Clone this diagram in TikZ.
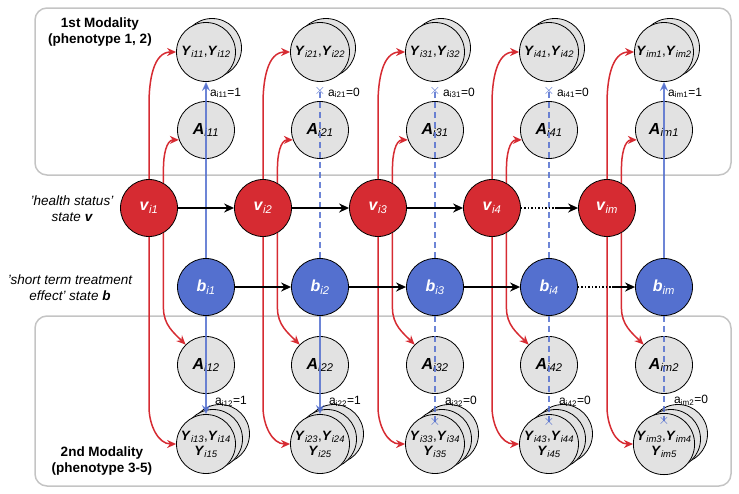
\documentclass[tikz,border=0pt]{standalone}
\usepackage{fontspec}
\setmainfont{Liberation Sans}
\usetikzlibrary{positioning,arrows.meta}
\definecolor{vred}{HTML}{D62B32}
\definecolor{bblue}{HTML}{5470CF}
\definecolor{ngrey}{HTML}{E2E2E2}
\definecolor{boxgrey}{HTML}{C4C4C4}
\newcommand{\lab}[2]{\textbf{\textit{#1}}\textsubscript{\textit{#2}}}
\tikzset{
  st/.style={circle,draw=black,line width=.8pt,minimum size=57pt,inner sep=0pt,font=\fontsize{16}{18}\selectfont},
  vnode/.style={st,fill=vred,text=white},
  bnode/.style={st,fill=bblue,text=white},
  anode/.style={st,fill=ngrey},
  ynode/.style={circle,draw=black,line width=.8pt,fill=ngrey,minimum size=59pt,inner sep=0pt,align=center,font=\fontsize{13.5}{15}\selectfont},
  redarr/.style={vred,line width=1.5pt,-{Stealth[length=9pt,width=8pt]}},
  bluearr/.style={bblue,line width=1.5pt,opacity=.85,-{Stealth[length=9pt,width=8pt]}},
  bluedash/.style={bblue,line width=1.5pt,opacity=.85,dash pattern=on 6pt off 4pt},
  harr/.style={black,line width=1.5pt,-{Stealth[length=10pt,width=9pt]}},
  xmark/.style={bblue,font=\fontsize{14}{14}\selectfont,inner sep=0pt},
  alab/.style={font=\fontsize{12}{13}\selectfont,right,inner sep=1pt},
  box/.style={draw=boxgrey,line width=1.5pt,rounded corners=12pt},
  side/.style={align=center,font=\itshape\fontsize{13.5}{16}\selectfont},
}
\begin{document}
\begin{tikzpicture}[x=1pt,y=-1pt]
\useasboundingbox (0,0) rectangle (739,493);
% modality boxes
\draw[box] (35,8) rectangle (731,175);
\draw[box] (35,316) rectangle (731,486);
% side texts
\node[align=center,font=\bfseries\fontsize{13.5}{16}\selectfont] (mod1) at (100,32) {1st Modality\\(phenotype 1, 2)};
\node[align=center,font=\bfseries\fontsize{13.5}{16}\selectfont] (mod2) at (102,461) {2nd Modality\\(phenotype 3-5)};
\node[side] (vtxt) at (72,209) {'health status'\\state \textbf{v}};
\node[side] (btxt) at (70,288) {'short term treatment\\effect' state \textbf{b}};
% columns: index / v x / top solid? / bottom solid?
\foreach \k/\vx/\ts/\bs in {1/149/1/1, 2/263/0/1, 3/378/0/0, 4/492/0/0, m/607/1/0}{
  \pgfmathsetmacro{\ax}{\vx+57}
  % top Y stack
  \node[ynode] (Ytb\k) at (\ax+6,48) {};
  \node[ynode] (Yt\k) at (\ax,52) {\lab{Y}{i\k1},\lab{Y}{i\k2}};
  \node[anode] (At\k) at (\ax,130) {\lab{A}{i\k1}};
  \node[vnode] (v\k) at (\vx,208) {\lab{v}{i\k}};
  \node[bnode] (b\k) at (\ax,287) {\lab{b}{i\k}};
  \node[anode] (Ab\k) at (\ax,365) {\lab{A}{i\k2}};
  % bottom Y stack
  \node[ynode] (Ybc\k) at (\ax+14,434) {};
  \node[ynode] (Ybb\k) at (\ax+7,439) {};
  \node[ynode] (Yb\k) at (\ax,444) {\lab{Y}{i\k3},\lab{Y}{i\k4}\\\lab{Y}{i\k5}};
  % red links
  \draw[redarr] (v\k.north) -- ++(0,-75) to[out=90,in=180] (Yt\k.west);
  \draw[redarr] (v\k.60) -- ++(0,-15) to[out=90,in=180] (At\k.200);
  \draw[redarr] (v\k.-60) -- ++(0,75) to[out=-90,in=135] (Ab\k.135);
  \draw[redarr] (v\k.south) -- ++(0,170) to[out=-90,in=180] (Yb\k.west);
  % blue links
  \ifnum\ts=1
    \draw[bluearr] (b\k.north) -- (Yt\k.south);
    \node[alab] (at\k) at ([xshift=3pt,yshift=-11pt]Yt\k.south) {a\textsubscript{i\k1}=1};
  \else
    \draw[bluedash] (b\k.north) -- ([yshift=-9pt]Yt\k.south) coordinate (xt\k);
    \node[xmark] (ct\k) at (xt\k) {$\times$};
    \node[alab] (at\k) at ([xshift=7pt,yshift=-11pt]Yt\k.south) {a\textsubscript{i\k1}=0};
  \fi
  \ifnum\bs=1
    \draw[bluearr] (b\k.south) -- (Yb\k.north);
    \node[alab] (ab\k) at ([xshift=8pt,yshift=13pt]Yb\k.north) {a\textsubscript{i\k2}=1};
  \else
    \draw[bluedash] (b\k.south) -- ([yshift=-8pt]Yb\k.north) coordinate (xb\k);
    \node[xmark] (cb\k) at (xb\k) {$\times$};
    \node[alab] (ab\k) at ([xshift=9pt,yshift=13pt]Yb\k.north) {a\textsubscript{i\k2}=0};
  \fi
}
% chains
\foreach \p/\q in {1/2,2/3,3/4}{
  \draw[harr] (v\p) -- (v\q);
  \draw[harr] (b\p) -- (b\q);
}
\draw[dotted,line width=1.5pt] (v4.east) -- (555,208) coordinate (vd);
\draw[harr] (vd) -- (vm);
\draw[dotted,line width=1.5pt] (b4.east) -- (612,287) coordinate (bd);
\draw[harr] (bd) -- (bm);
\end{tikzpicture}
\end{document}
